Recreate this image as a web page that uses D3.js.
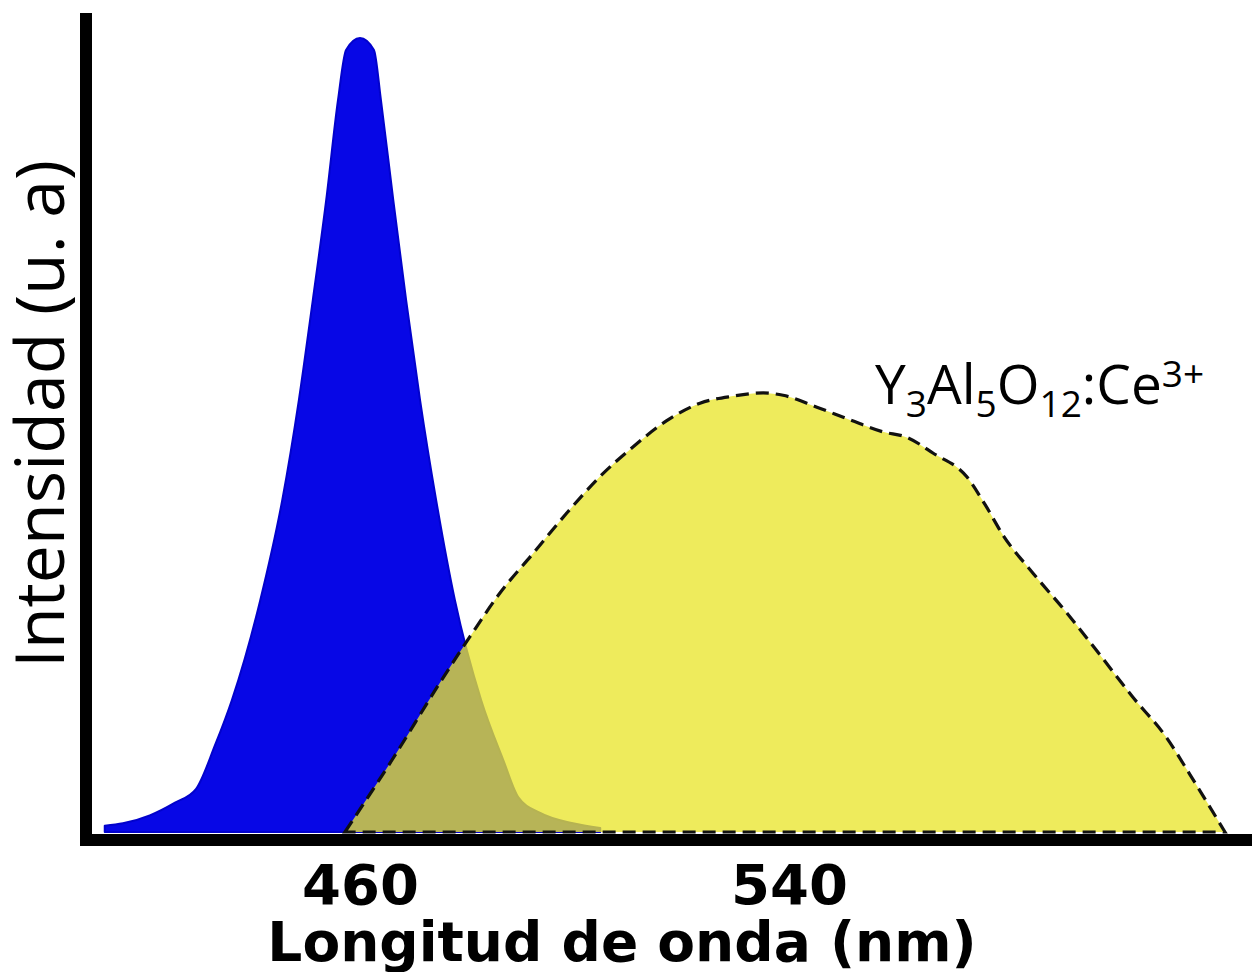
<!DOCTYPE html>
<html>
<head>
<meta charset="utf-8">
<script src="https://cdn.jsdelivr.net/npm/d3@7/dist/d3.min.js"></script>
<style>
  html, body { margin: 0; padding: 0; background: #fff; }
  svg { display: block; }
</style>
</head>
<body>
<svg id="chart" width="1252" height="972"></svg>
<script>
// Blue LED emission (wavelength in nm, normalised intensity)
const blueWavelength = [412.4, 415.8, 420.8, 425.5, 429.4, 433.0, 436.1, 441.4, 445.5, 448.6, 451.2, 453.7, 455.9, 457.4, 460.0,
                        462.6, 463.9, 466.2, 468.6, 471.2, 474.2, 477.7, 482.6, 486.7, 489.5, 493.6, 499.7, 504.8];
const blueIntensity  = [0.008, 0.011, 0.021, 0.037, 0.054, 0.110, 0.166, 0.292, 0.418, 0.544, 0.670, 0.796, 0.922, 0.985, 1.000,
                        0.985, 0.922, 0.796, 0.670, 0.544, 0.418, 0.292, 0.166, 0.091, 0.044, 0.024, 0.011, 0.005];

// YAG:Ce phosphor emission
const yagWavelength = [457.2, 466.0, 474.9, 480.5, 486.1, 492.3, 498.6, 504.8, 510.9, 517.2, 523.4, 529.6, 535.2,
                       538.9, 545.2, 551.4, 557.5, 562.0, 566.9, 573.2, 576.6, 579.9, 585.5, 591.8, 598.0, 604.1,
                       610.5, 614.8, 621.3];
const yagIntensity  = [0.000, 0.091, 0.188, 0.246, 0.301, 0.351, 0.402, 0.448, 0.485, 0.518, 0.540, 0.549, 0.553,
                       0.550, 0.535, 0.519, 0.504, 0.497, 0.477, 0.447, 0.412, 0.374, 0.326, 0.276, 0.223, 0.170,
                       0.118, 0.072, 0.000];

const xTicks = [460, 540];
const xTitle = "Longitud de onda (nm)";
const yTitle = "Intensidad (u. a)";

const svg = d3.select("#chart");

const x = d3.scaleLinear().domain([460, 540]).range([360, 789]);
const y = d3.scaleLinear().domain([0, 1]).range([832, 38]);

const blue = blueWavelength.map((w, i) => ({ w, v: blueIntensity[i] }));
const yag  = yagWavelength.map((w, i) => ({ w, v: yagIntensity[i] }));

const area = d3.area()
  .x(d => x(d.w))
  .y0(y(0))
  .y1(d => y(d.v))
  .curve(d3.curveMonotoneX);

// blue LED band
svg.append("path")
  .datum(blue)
  .attr("d", area)
  .attr("fill", "#0707e6")
  .attr("stroke", "#0202cc")
  .attr("stroke-width", 2)
  .attr("stroke-linejoin", "round");

// translucent phosphor band on top, dashed outline
svg.append("path")
  .datum(yag)
  .attr("d", area)
  .attr("fill", "rgb(233,229,46)")
  .attr("fill-opacity", 0.78)
  .attr("stroke", "#111")
  .attr("stroke-width", 3.2)
  .attr("stroke-dasharray", "13,7");

// frame
const frame = svg.append("g").attr("stroke", "#000").attr("stroke-width", 12);
frame.append("line").attr("x1", 80).attr("x2", 1252).attr("y1", 840).attr("y2", 840);
frame.append("line").attr("x1", 86).attr("x2", 86).attr("y1", 13).attr("y2", 846);

// x tick labels
const xAxis = d3.axisBottom(x).tickValues(xTicks).tickSize(0).tickPadding(0).tickFormat(d3.format("d"));
const gx = svg.append("g").attr("transform", "translate(0,904)").call(xAxis);
gx.select(".domain").remove();
gx.selectAll("text")
  .attr("dy", 0)
  .attr("y", 0)
  .attr("font-family", "'DejaVu Sans', sans-serif")
  .attr("font-weight", "bold")
  .attr("font-size", 56)
  .attr("fill", "#000");

// axis titles
svg.append("text")
  .attr("x", 622).attr("y", 961)
  .attr("text-anchor", "middle")
  .attr("font-family", "'DejaVu Sans', sans-serif")
  .attr("font-weight", "bold")
  .attr("font-size", 55)
  .text(xTitle);

svg.append("text")
  .attr("transform", "translate(64,414) rotate(-90)")
  .attr("text-anchor", "middle")
  .attr("font-family", "'Open Sans', sans-serif")
  .attr("font-size", 68)
  .text(yTitle);

// phosphor label Y3Al5O12:Ce3+
const lab = svg.append("text")
  .attr("x", 875).attr("y", 404)
  .attr("font-family", "'Open Sans', sans-serif")
  .attr("font-size", 55)
  .attr("fill", "#000");
const parts = [
  ["Y", 0, 55], ["3", 13, 37], ["Al", -13, 55], ["5", 13, 37], ["O", -13, 55],
  ["12", 13, 37], [":Ce", -13, 55], ["3+", -17, 37]
];
parts.forEach(([t, dy, fs]) => {
  lab.append("tspan").attr("dy", dy).attr("font-size", fs).text(t);
});
</script>
</body>
</html>
